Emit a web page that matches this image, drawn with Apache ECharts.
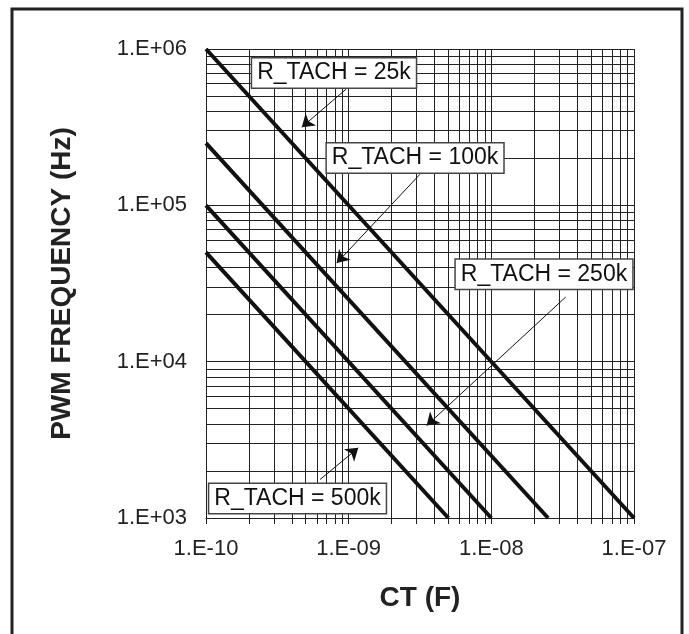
<!DOCTYPE html>
<html>
<head>
<meta charset="utf-8">
<script src="https://cdn.jsdelivr.net/npm/echarts@6/dist/echarts.min.js"></script>
<style>
html,body{margin:0;padding:0;background:#fff;}
#main{width:689px;height:634px;}
</style>
</head>
<body>
<div id="main"></div>
<script>
// ---- data ----
const rTachLabels = ['R_TACH = 25k', 'R_TACH = 100k', 'R_TACH = 250k', 'R_TACH = 500k'];
const ctStart = [1e-10, 1e-10, 1e-10, 1e-10];
const ctEnd = [1e-7, 2.5e-8, 1e-8, 5e-9];
const freqStart = [1e6, 2.5e5, 1e5, 5e4];
const freqEnd = [1e3, 1e3, 1e3, 1e3];
const xTickValues = [1e-10, 1e-9, 1e-8, 1e-7];
const xTickLabels = ['1.E-10', '1.E-09', '1.E-08', '1.E-07'];
const yTickValues = [1e3, 1e4, 1e5, 1e6];
const yTickLabels = ['1.E+03', '1.E+04', '1.E+05', '1.E+06'];
// annotation anchors in data space (box centre, arrow start, arrow tip)
const boxCenterCT = [7.89e-10, 2.92e-9, 2.34e-8, 4.38e-10];
const boxCenterF = [7.03e5, 2.01e5, 3.62e4, 1332];
const arrowFromCT = [9.58e-10, 3.16e-9, 3.32e-8, 6.30e-10];
const arrowFromF = [5.53e5, 1.58e5, 2.59e4, 1762];
const arrowToCT = [4.69e-10, 8.24e-10, 3.52e-9, 1.168e-9];
const arrowToF = [3.16e5, 4.27e4, 3899, 2810];

const FONT = "'Liberation Sans', Arial, Helvetica, sans-serif";

function fmt(values, labels) {
  return function (v) {
    let best = 0, bd = Infinity;
    for (let i = 0; i < values.length; i++) {
      const d = Math.abs(Math.log10(v) - Math.log10(values[i]));
      if (d < bd) { bd = d; best = i; }
    }
    return bd < 0.01 ? labels[best] : '';
  };
}

const gridLine = { show: true, lineStyle: { color: '#222', width: 1 } };

const series = rTachLabels.map(function (name, i) {
  return {
    name: name,
    type: 'line',
    symbol: 'none',
    silent: true,
    lineStyle: { color: '#111', width: 4 },
    data: [[ctStart[i], freqStart[i]], [ctEnd[i], freqEnd[i]]],
    markLine: {
      silent: true,
      symbol: ['none', 'arrow'],
      symbolSize: 12,
      label: { show: false },
      lineStyle: { color: '#111', width: 1, type: 'solid' },
      itemStyle: { color: '#111' },
      data: [[{ coord: [arrowFromCT[i], arrowFromF[i]] }, { coord: [arrowToCT[i], arrowToF[i]] }]],
      z: 3
    },
    markPoint: {
      silent: true,
      symbol: 'rect',
      symbolSize: 1,
      itemStyle: { color: 'rgba(0,0,0,0)' },
      label: {
        show: true,
        position: 'inside',
        formatter: name,
        fontFamily: FONT,
        fontSize: 23,
        color: '#111',
        backgroundColor: '#fff',
        borderColor: '#444',
        borderWidth: 1.5,
        padding: [4, 5, 2, 5]
      },
      data: [{ coord: [boxCenterCT[i], boxCenterF[i]] }],
      z: 5
    }
  };
});

const chart = echarts.init(document.getElementById('main'), null, { renderer: 'canvas' });
chart.setOption({
  animation: false,
  backgroundColor: '#fff',
  graphic: [{
    type: 'rect',
    shape: { x: 12, y: 9, width: 670, height: 650 },
    style: { fill: 'none', stroke: '#222', lineWidth: 3 },
    silent: true
  }],
  grid: { left: 206, right: 55, top: 49, bottom: 116, containLabel: false },
  xAxis: {
    type: 'log',
    logBase: 10,
    min: 1e-10,
    max: 1e-7,
    name: 'CT (F)',
    nameLocation: 'middle',
    nameGap: 66,
    nameTextStyle: { fontFamily: FONT, fontSize: 28, fontWeight: 'bold', color: '#222' },
    axisLine: { show: true, lineStyle: { color: '#222', width: 1 } },
    axisTick: { show: true, length: 6, lineStyle: { color: '#222' } },
    minorTick: { show: true, splitNumber: 9, length: 6, lineStyle: { color: '#222' } },
    splitLine: gridLine,
    minorSplitLine: gridLine,
    axisLabel: { formatter: fmt(xTickValues, xTickLabels), fontFamily: FONT, fontSize: 22, color: '#222', margin: 20 }
  },
  yAxis: {
    type: 'log',
    logBase: 10,
    min: 1e3,
    max: 1e6,
    name: 'PWM FREQUENCY (Hz)',
    nameLocation: 'middle',
    nameGap: 130,
    nameTextStyle: { fontFamily: FONT, fontSize: 28, fontWeight: 'bold', color: '#222' },
    axisLine: { show: true, lineStyle: { color: '#222', width: 1 } },
    axisTick: { show: false },
    minorTick: { show: false, splitNumber: 9 },
    splitLine: gridLine,
    minorSplitLine: gridLine,
    axisLabel: { formatter: fmt(yTickValues, yTickLabels), fontFamily: FONT, fontSize: 22, color: '#222', margin: 19 }
  },
  series: series
});
</script>
</body>
</html>
